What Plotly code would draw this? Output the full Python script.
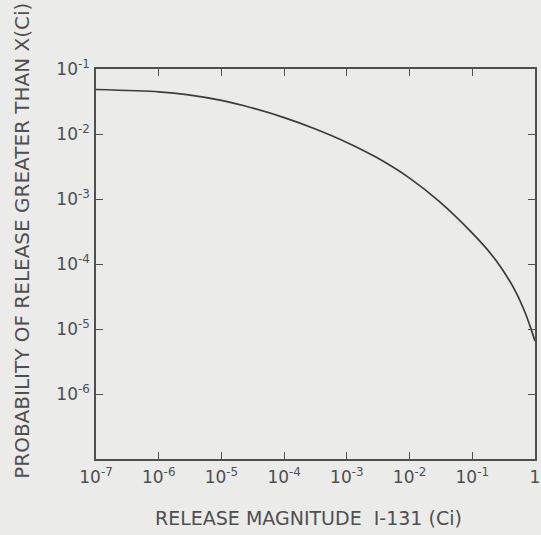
import plotly.graph_objects as go

# Complementary cumulative distribution of I-131 release magnitude
release_ci = [1e-7, 1e-6, 3e-6, 1e-5, 3e-5, 1e-4, 3e-4, 1e-3, 3e-3,
              1e-2, 3e-2, 1e-1, 2e-1, 3e-1, 5e-1, 7e-1, 8.5e-1, 1.0]
probability = [0.04837, 0.04459, 0.04010, 0.03288, 0.02538, 0.01788, 0.01215,
               0.007427, 0.004334, 0.002097, 9.09e-4, 2.98e-4, 1.415e-4,
               8.32e-5, 3.64e-5, 1.76e-5, 1.05e-5, 6.52e-6]

x_tick_vals = [1e-7, 1e-6, 1e-5, 1e-4, 1e-3, 1e-2, 1e-1, 1]
x_tick_text = ["10<sup>-7</sup>", "10<sup>-6</sup>", "10<sup>-5</sup>", "10<sup>-4</sup>",
               "10<sup>-3</sup>", "10<sup>-2</sup>", "10<sup>-1</sup>", "1"]
y_tick_vals = [1e-1, 1e-2, 1e-3, 1e-4, 1e-5, 1e-6]
y_tick_text = ["10<sup>-1</sup>", "10<sup>-2</sup>", "10<sup>-3</sup>",
               "10<sup>-4</sup>", "10<sup>-5</sup>", "10<sup>-6</sup>"]

ink = "#4f4f4f"
paper = "#ebebea"
font_family = "DejaVu Sans"

fig = go.Figure()
fig.add_trace(go.Scatter(
    x=release_ci, y=probability, mode="lines",
    line=dict(color="#3c3c3c", width=1.7, shape="spline", smoothing=0.8),
    hoverinfo="skip", showlegend=False,
))

axis_common = dict(
    showgrid=False, zeroline=False, showline=True, linecolor=ink, linewidth=1.5,
    mirror="ticks", ticks="inside", ticklen=7, tickwidth=1.3, tickcolor=ink,
    tickfont=dict(family=font_family, size=17, color=ink),
    ticklabeloverflow="allow",
)

fig.update_xaxes(type="log", range=[-7, 0], tickvals=x_tick_vals, ticktext=x_tick_text,
                 ticklabelstandoff=2, **axis_common)
fig.update_yaxes(type="log", range=[-7, -1], tickvals=y_tick_vals, ticktext=y_tick_text,
                 ticklabelstandoff=1, **axis_common)

fig.add_annotation(
    text="PROBABILITY OF RELEASE GREATER THAN X(Ci)",
    xref="paper", yref="paper", x=-0.169, y=0.559, textangle=-90,
    xanchor="center", yanchor="middle",
    showarrow=False, font=dict(family=font_family, size=20, color=ink),
)
fig.add_annotation(
    text="RELEASE MAGNITUDE  I-131 (Ci)",
    xref="paper", yref="paper", x=0.484, y=-0.150,
    xanchor="center", yanchor="middle",
    showarrow=False, font=dict(family=font_family, size=19, color=ink),
)

fig.update_layout(
    width=541, height=535,
    margin=dict(l=96, r=1, t=69, b=76),
    paper_bgcolor=paper, plot_bgcolor=paper,
)

fig.write_html("out.html")
